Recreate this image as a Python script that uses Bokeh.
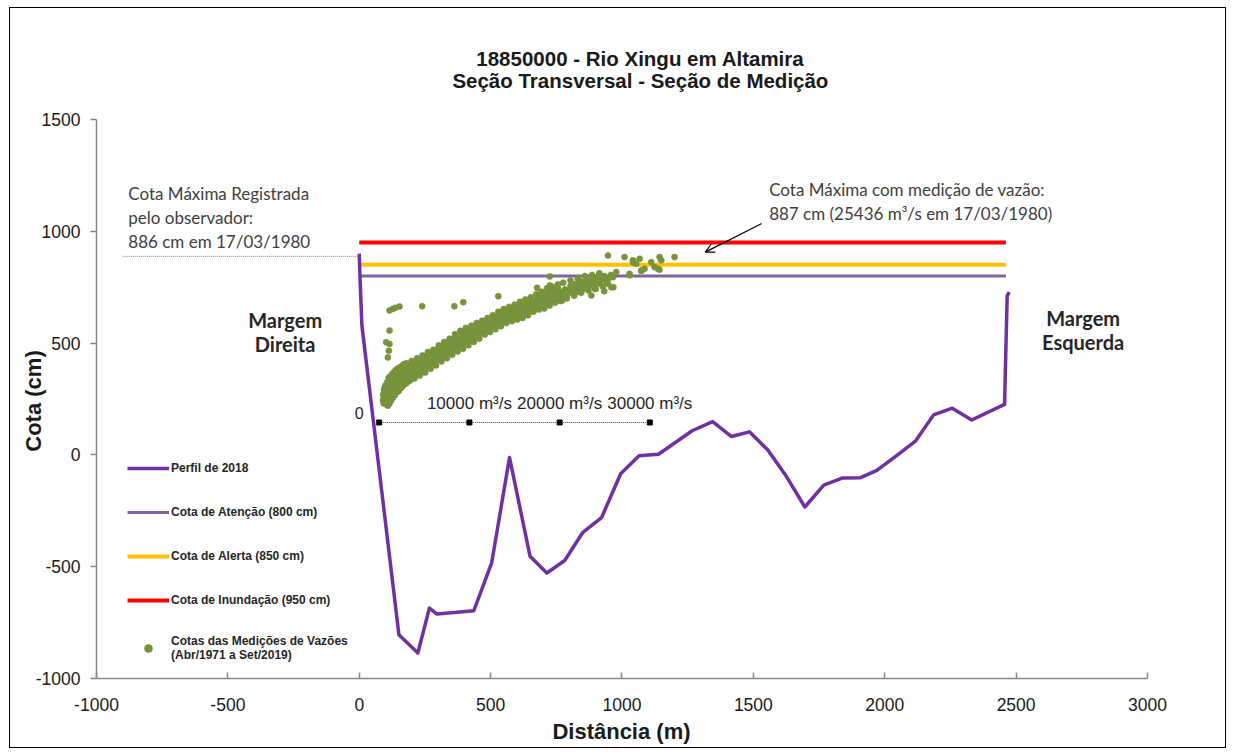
import math
from bokeh.plotting import figure
from bokeh.models import (Range1d, FixedTicker, Legend, LegendItem, Label, Arrow,
                          OpenHead, ColumnDataSource)
from bokeh.embed import file_html
from bokeh.resources import INLINE

# ---------------- data ----------------
title_lines = ["18850000 - Rio Xingu em Altamira", "Seção Transversal - Seção de Medição"]
x_axis_title = "Distância (m)"
y_axis_title = "Cota (cm)"

# cross-section profile 2018: distance (m), elevation (cm)
profile_dist = [0, 3, 10, 151, 223, 267, 296, 436, 504, 572, 650, 714, 782, 850, 922, 995,
                1065, 1139, 1267, 1345, 1417, 1485, 1555, 1626, 1696, 1768, 1840, 1908, 1970,
                2044, 2118, 2186, 2257, 2331, 2456, 2466, 2474]
profile_elev = [900, 790, 580, -804, -886, -685, -712, -697, -483, -12, -453, -528, -472, -348,
                -281, -84, -4, 3, 108, 149, 82, 103, 22, -97, -233, -135, -103, -102, -69,
                -4, 63, 179, 209, 156, 226, 712, 728]

# reference levels (cm)
level_names = ["Cota de Atenção (800 cm)", "Cota de Alerta (850 cm)", "Cota de Inundação (950 cm)"]
level_values = [800, 850, 950]
level_colors = ["#8064A2", "#FFC000", "#FF0000"]
level_span = [0, 2461]

# discharge measurements: discharge (m3/s), stage (cm)
meas_q = [420, 480, 520, 560, 600, 640, 680, 710, 750, 790, 820, 860, 900, 930, 960, 1000, 1040,
          1070, 1100, 1130, 1170, 1200, 1240, 1280, 1310, 1350, 1390, 1420, 1460, 1500, 1540,
          1580, 1620, 1660, 1700, 1740, 1790, 1830, 1870, 1910, 1960, 2000, 2050, 2100, 2150,
          2200, 2260, 2310, 2360, 2420, 2480, 2540, 2600, 2660, 2720, 2790, 2850, 2910, 2960,
          3000,
          3080, 3150, 3230, 3300, 3380, 3450, 3520, 3600, 3680, 3750, 3830, 3900, 3980, 4060,
          4130, 4210, 4300, 4380, 4460, 4540, 4620, 4700, 4790, 4870, 4950, 5040, 5120, 5210,
          5300, 5390, 5480, 5570, 5660, 5750, 5850, 5940, 6040, 6140, 6240, 6340, 6440, 6550,
          6650, 6760, 6870, 6980,
          7080, 7190, 7300, 7400, 7510, 7620, 7730, 7840, 7950, 8060, 8170, 8280, 8390, 8500,
          8610, 8720, 8830, 8940, 9050, 9160, 9270, 9380, 9490, 9600, 9710, 9820, 9930, 10050,
          10170, 10290, 10410, 10530, 10650, 10780, 10900,
          11030, 11160, 11290, 11420, 11550, 11680, 11810, 11940, 12070, 12200, 12330, 12460,
          12590, 12720, 12850, 12980, 13110, 13240, 13370, 13500, 13630, 13760, 13890, 14020,
          14150, 14280, 14410, 14540, 14670, 14800, 14940, 15080, 15220, 15360, 15500, 15640,
          15780, 15920,
          16070, 16220, 16370, 16520, 16670, 16820, 16970, 17120, 17270, 17420, 17570, 17720,
          17870, 18020, 18170, 18320, 18470, 18620, 18770, 18920, 19070, 19220, 19370, 19520,
          19670, 19820, 19970, 20120, 20270, 20420,
          20600, 20800, 21000, 21200, 21400, 21600, 21800, 22000, 22200, 22400, 22600, 22800,
          23000, 23200, 23400, 23600, 23800, 24000, 24200, 24450, 24700, 24950, 25200, 25450,
          25700,
          1140, 1510, 1800, 2250, 4760, 8330, 9320, 1140, 775, 1140, 1070, 960, 13200, 14120,
          17500, 18910, 18910, 21860, 22040, 23150, 23520, 23890, 24250, 25360, 25730, 25910,
          26280, 25360, 27200, 27760, 28130, 28130, 28870, 28500, 29050, 29420, 30160, 30530,
          31080, 31270, 30900, 32740, 27760, 24950, 25960, 29050, 31080,
          450, 520, 600, 700, 800, 880, 950, 1050, 1150, 1250, 1350, 1450, 1550, 1650, 1750,
          1850, 1950, 2100, 2250, 2400, 2550, 2700, 2850, 3000, 3300, 3600, 3900, 4200, 4500,
          4800, 5100, 5400, 5700, 6000, 6300, 6600, 6900, 7200, 7500, 7800, 8100, 8400, 8700,
          9000, 9300, 9600, 9900, 10200, 10500, 10800, 11100, 11400, 11700, 12000, 12300,
          12600, 12900, 13200, 13500, 13800, 14100, 14400, 14700, 15000, 15300, 15600, 15900,
          16200, 16500, 16800, 17100, 17400, 17700, 18000, 18300, 18600, 18900, 19200, 19500,
          19800, 20100, 20400, 20800, 21200, 21600, 22000, 22400, 22800, 23200, 23600, 24000,
          24400, 24800]
meas_stage = [245, 232, 262, 240, 228, 255, 270, 238, 250, 282, 226, 262, 240, 295, 272, 250, 310,
              228, 285, 262, 300, 240, 322, 275, 255, 300, 335, 282, 260, 315, 290,
              345, 270, 305, 330, 285, 355, 312, 290, 340, 365, 300, 325, 350, 285,
              335, 370, 318, 345, 300, 360, 330, 380, 312, 350, 372, 335, 360, 390,
              320,
              350, 375, 340, 392, 362, 335, 380, 400, 355, 372, 395, 345, 385, 410,
              370, 392, 360, 415, 385, 402, 372, 425, 395, 410, 380, 432, 400, 418,
              392, 445, 412, 430, 405, 455, 425, 440, 415, 462, 432, 450, 425, 475,
              445, 462, 438, 485,
              452, 470, 445, 495, 465, 482, 458, 505, 478, 495, 470, 520, 488, 505,
              480, 530, 500, 518, 490, 540, 512, 528, 500, 550, 522, 538, 510, 558,
              530, 548, 520, 565, 540, 555, 528,
              572, 545, 562, 585, 552, 575, 592, 560, 583, 600, 570, 592,
              608, 578, 598, 615, 585, 605, 622, 592, 612, 630, 600, 620,
              638, 605, 628, 645, 612, 635, 652, 618, 640, 660, 625, 648,
              665, 632,
              655, 672, 640, 662, 680, 648, 670, 688, 655, 678, 700, 662,
              688, 712, 672, 695, 720, 682, 705, 728, 690, 712, 735, 698,
              720, 745, 705, 728, 690, 715,
              740, 712, 735, 755, 725, 748, 765, 735, 758, 775, 742, 765,
              780, 750, 772, 790, 758, 778, 795, 765, 785, 800, 772, 790,
              805,
              646, 653, 658, 664, 665, 665, 683, 556, 504, 496, 466, 436, 710, 646,
              747, 798, 758, 758, 728, 773, 713, 743, 780, 765, 750, 795,
              818, 892, 885, 803, 862, 870, 877, 855, 825, 832, 862, 840,
              885, 870, 832, 885, 810, 732, 750, 822, 828,
              270, 290, 300, 312, 230, 325, 220, 345, 232, 352, 245, 362, 258, 372, 268,
              380, 280, 388, 295, 395, 305, 405, 318, 410, 330, 420, 342, 432, 355,
              445, 368, 460, 385, 470, 400, 490, 418, 505, 432, 520, 448, 540, 462,
              555, 475, 568, 490, 578, 505, 590, 520, 600, 538, 612, 550,
              625, 562, 640, 575, 652, 590, 662, 598, 672, 605, 685, 612,
              695, 625, 705, 640, 718, 650, 730, 655, 745, 668, 752, 680,
              762, 688, 770, 700, 780, 712, 790, 725, 800, 735, 805, 742,
              812, 752]

# discharge scale drawn inside the chart
q_scale_ticks = [0, 10000, 20000, 30000]
q_scale_labels = ["0", "10000 m³/s", "20000 m³/s", "30000 m³/s"]
q_origin_dist = 76          # distance (m) where Q = 0 is drawn
q_dist_per_unit = 0.03433   # metres of chart per m3/s
q_scale_level = 145         # cm

def qx(q):
    return q_origin_dist + q * q_dist_per_unit

# axis extents (data) and the visible canvas extents around them
x_ticks = [-1000, -500, 0, 500, 1000, 1500, 2000, 2500, 3000]
y_ticks = [-1000, -500, 0, 500, 1000, 1500]

# ---------------- figure ----------------
# the frame fills the whole canvas; the axes are pinned at (-1000, -1000)
p = figure(width=1217, height=741,
           x_range=Range1d(-1327.3, 3304.5), y_range=Range1d(-1317.5, 1996.4),
           output_backend="svg", toolbar_location=None,
           min_border_left=0, min_border_right=0, min_border_top=0, min_border_bottom=0)
p.background_fill_color = "white"
p.border_fill_color = "white"
p.outline_line_color = None
p.xgrid.visible = False
p.ygrid.visible = False
p.styles = {"border": "1px solid #000000", "margin-left": "9px", "margin-top": "7px"}

AX_FONT = "Liberation Sans"
for ax in (p.xaxis[0], p.yaxis[0]):
    ax.axis_line_color = "#868686"
    ax.axis_line_width = 1.5
    ax.major_tick_line_color = "#868686"
    ax.major_tick_line_width = 1.5
    ax.minor_tick_line_color = None
    ax.major_label_text_font = AX_FONT
    ax.major_label_text_font_size = "17.5px"
    ax.major_label_text_color = "#1a1a1a"

p.xaxis.ticker = FixedTicker(ticks=x_ticks)
p.yaxis.ticker = FixedTicker(ticks=y_ticks)
p.xaxis.major_label_overrides = {t: str(t) for t in x_ticks}
p.yaxis.major_label_overrides = {t: str(t) for t in y_ticks}
p.xaxis.bounds = (x_ticks[0], x_ticks[-1])
p.yaxis.bounds = (y_ticks[0], y_ticks[-1])
p.xaxis.fixed_location = y_ticks[0]
p.yaxis.fixed_location = x_ticks[0]
p.xaxis.major_tick_in = 6
p.xaxis.major_tick_out = 0
p.xaxis.major_label_standoff = 19
p.yaxis.major_tick_in = 0
p.yaxis.major_tick_out = 6
p.yaxis.major_label_standoff = 10

# axis titles and chart title
p.add_layout(Label(x=998, y=-1239, text=x_axis_title, text_align="center",
                   text_baseline="middle", text_font=AX_FONT, text_font_style="bold",
                   text_font_size="22px", text_color="#1a1a1a"))
p.add_layout(Label(x=-1240, y=241, text=y_axis_title, angle=math.pi / 2, text_align="center",
                   text_baseline="middle", text_font=AX_FONT, text_font_style="bold",
                   text_font_size="22px", text_color="#1a1a1a"))
for yy, line in zip([1771, 1673], title_lines):
    p.add_layout(Label(x=1070, y=yy, text=line, text_align="center", text_baseline="middle",
                       text_font=AX_FONT, text_font_style="bold", text_font_size="20.5px",
                       text_color="#1a1a1a"))

# reference level lines
level_renderers = []
for val, col in zip(level_values, level_colors):
    w = 3 if val == 800 else 4
    r = p.line(x=level_span, y=[val, val], line_color=col, line_width=w)
    level_renderers.append(r)

# profile
r_prof = p.line(x=profile_dist, y=profile_elev, line_color="#7030A0", line_width=3.5,
                line_join="round")

# measurements
src = ColumnDataSource(dict(x=[qx(q) for q in meas_q], y=meas_stage))
r_meas = p.scatter(x="x", y="y", source=src, size=6, fill_color="#77933C",
                   line_color="#77933C", line_alpha=0.6)

# discharge scale
p.line(x=[qx(q_scale_ticks[0]), qx(q_scale_ticks[-1])], y=[q_scale_level] * 2,
       line_color="#404040", line_width=1, line_dash="1 1")
p.scatter(x=[qx(q) for q in q_scale_ticks], y=[q_scale_level] * len(q_scale_ticks),
          marker="square", size=5, color="black")
for q, lab in zip(q_scale_ticks, q_scale_labels):
    if q == 0:
        p.add_layout(Label(x=qx(q) - 76, y=188, text=lab, text_align="center",
                           text_baseline="middle", text_font=AX_FONT, text_font_size="16px",
                           text_color="#262626"))
    else:
        p.add_layout(Label(x=qx(q), y=229, text=lab, text_align="center",
                           text_baseline="middle", text_font=AX_FONT, text_font_size="17px",
                           text_color="#262626"))

# dotted marker of max observed stage
p.line(x=[-900, 0], y=[888, 888], line_color="#808080", line_width=1, line_dash="1 1")

# annotations
p.add_layout(Label(x=-282, y=549, text="Margem\nDireita", text_align="center",
                   text_baseline="middle", text_font="Lato", text_font_style="bold",
                   text_font_size="20px", text_color="#262626", text_line_height=1.0))
p.add_layout(Label(x=2755, y=558, text="Margem\nEsquerda", text_align="center",
                   text_baseline="middle", text_font="Lato", text_font_style="bold",
                   text_font_size="20px", text_color="#262626", text_line_height=1.0))

p.add_layout(Label(x=-879, y=1063,
                   text="Cota Máxima Registrada\npelo observador:\n886 cm em 17/03/1980",
                   text_align="left", text_baseline="middle", text_font="Lato",
                   text_font_size="17px", text_color="#404040", text_line_height=1.15))
p.add_layout(Label(x=1560, y=1132,
                   text="Cota Máxima com medição de vazão:\n887 cm (25436 m³/s em 17/03/1980)",
                   text_align="left", text_baseline="middle", text_font="Lato",
                   text_font_size="17px", text_color="#404040", text_line_height=1.15))
p.add_layout(Arrow(x_start=1532, y_start=1035, x_end=1317, y_end=907,
                   line_color="black", line_width=1.2,
                   end=OpenHead(size=9, line_color="black", line_width=1.2)))

# legend
items = [LegendItem(label="Perfil de 2018", renderers=[r_prof])]
for name, r in zip(level_names, level_renderers):
    items.append(LegendItem(label=name, renderers=[r]))
items.append(LegendItem(label="Cotas das Medições de Vazões\n(Abr/1971 a Set/2019)",
                        renderers=[r_meas]))
legend = Legend(items=items, location=(117, 87), orientation="vertical",
                label_text_font=AX_FONT, label_text_font_style="bold",
                label_text_font_size="12px", label_text_color="#262626",
                glyph_width=42, glyph_height=20, label_height=20, spacing=24,
                padding=8, margin=0, label_standoff=2,
                background_fill_alpha=0, border_line_color=None)
p.add_layout(legend)

open("out.html", "w").write(file_html(p, INLINE))
